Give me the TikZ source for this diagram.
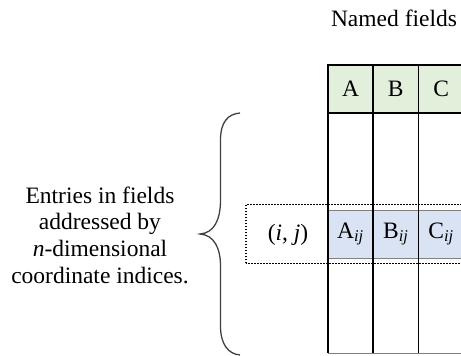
\documentclass[tikz,border=0pt]{standalone}
\usepackage{fontspec}
\setmainfont{Liberation Serif}
\newcommand{\colwidth}{45.3}
\newcommand{\figwidth}{461pt}
\newcommand{\figheight}{356pt}
\newcommand{\labelfont}{\fontsize{23.5}{26.7}\selectfont}
\definecolor{headbg}{HTML}{E2EFDA}
\definecolor{entrybg}{HTML}{DAE3F3}
\definecolor{bracecolor}{HTML}{404040}
\definecolor{entryline}{HTML}{7F7F7F}

\tikzset{
  cell/.style={minimum width=\colwidth pt, minimum height=48pt, inner sep=0pt,
    font=\labelfont},
  headcell/.style={cell, fill=headbg},
  entrycell/.style={cell, fill=entrybg, draw=entryline, line width=0.5pt},
  gridline/.style={black, line width=1.6pt},
}

\begin{document}
\begin{tikzpicture}[x=1pt, y=1pt]
  \useasboundingbox (0,0) rectangle (\figwidth, \figheight);
  \clip (0,0) rectangle (\figwidth, \figheight);

  \node[font=\labelfont] (title) at (394, 338) {Named fields};

  % === TABLE CELLS ===
  \node[headcell] (headA) at (350.5, 267) {A};
  \node[headcell] (headB) at (395.8, 267) {B};
  \node[headcell] (headC) at (441.1, 267) {C};

  \node[entrycell] (entryA) at (350.5, 122) {A\textsubscript{\itshape ij}};
  \node[entrycell] (entryB) at (395.8, 122) {B\textsubscript{\itshape ij}};
  \node[entrycell] (entryC) at (441.1, 122) {C\textsubscript{\itshape ij}};

  % dotted row marker
  \draw[black, line width=1.6pt, dash pattern=on 1.6pt off 1.4pt]
    (246, 92.5) rectangle (480, 151.5);
  \node[font=\labelfont] (index) at (288, 121) {(\textit{i}, \textit{j})};

  % === GRID ===
  \draw[entryline, line width=0.6pt] (327.7, 3) -- (470, 3);
  \draw[gridline] (327.7, 291) -- (470, 291);
  \draw[gridline] (327.7, 243) -- (470, 243);
  \foreach \x in {327.7, 373.0, 418.3, 463.6}
    \draw[gridline] (\x, 291.8) -- (\x, 3);

  % === BRACE AND LABEL ===
  \draw[bracecolor, line width=1.3pt]
    (240, 243) .. controls (228, 242) and (220.5, 234) .. (220.5, 216)
    -- (220.5, 156) .. controls (220.5, 136) and (214, 123) .. (200, 122)
    .. controls (214, 121) and (220.5, 108) .. (220.5, 90)
    -- (220.5, 30) .. controls (220.5, 12) and (228, 2) .. (240, 1);

  \node[align=center, font=\labelfont] (entries) at (100, 121)
    {Entries in fields\\addressed by\\\textit{n}-dimensional\\coordinate indices.};
\end{tikzpicture}
\end{document}
